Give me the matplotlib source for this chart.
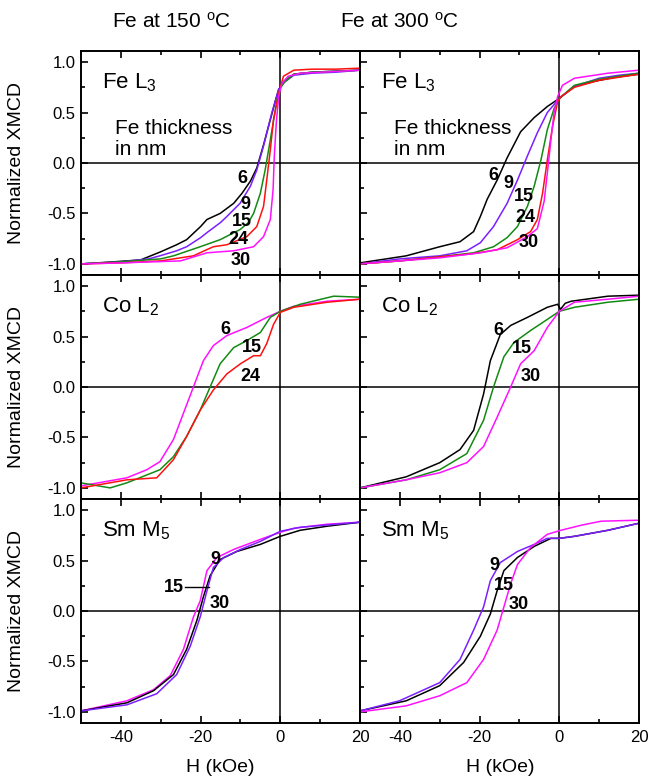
"""Element-resolved XMCD hysteresis loops, Fe deposited at 150 and 300 C."""
import matplotlib

matplotlib.use("Agg")
import matplotlib.pyplot as plt
from matplotlib.ticker import MultipleLocator

plt.rcParams.update(
    {
        "font.family": ["Liberation Sans", "DejaVu Sans"],
        "mathtext.default": "regular",
        "font.size": 12,
        "axes.linewidth": 1.4,
    }
)

COLORS = {
    "black": "#000000",
    "violet": "#7b1fff",
    "green": "#138a13",
    "red": "#ff1010",
    "magenta": "#ff10ff",
}

# ---- Fe L3, Fe at 150 C ----
fe150_6_h = [-50, -42, -35, -30, -26, -23.5, -20, -18.4, -15.1, -11.7, -9.6, -7.5, -5.9, -4.2, -2.5, -1.2, -0.4, 0.8, 3.4, 8, 14, 20]
fe150_6_m = [-1.0, -0.98, -0.96, -0.88, -0.81, -0.76, -0.63, -0.56, -0.50, -0.40, -0.30, -0.18, -0.05, 0.18, 0.43, 0.62, 0.73, 0.80, 0.88, 0.90, 0.91, 0.92]
fe150_9_h = [-50, -40, -33, -30.2, -26, -23.5, -20, -18.4, -15, -13.4, -10.1, -7.5, -5.9, -4.2, -2.1, -0.4, 1, 3.4, 8, 14, 20]
fe150_9_m = [-1.0, -0.98, -0.95, -0.92, -0.87, -0.83, -0.74, -0.69, -0.59, -0.53, -0.40, -0.23, -0.07, 0.17, 0.50, 0.73, 0.80, 0.87, 0.89, 0.90, 0.92]
fe150_15_h = [-50, -40, -30, -26.8, -20.1, -15.1, -10.1, -8, -6.7, -5.0, -3.8, -2.5, -0.8, 0, 1, 3.4, 8, 14, 20]
fe150_15_m = [-1.0, -0.98, -0.95, -0.92, -0.83, -0.76, -0.66, -0.59, -0.50, -0.30, -0.07, 0.23, 0.63, 0.74, 0.80, 0.88, 0.90, 0.91, 0.92]
fe150_24_h = [-50, -40, -30, -21.8, -18.5, -16.8, -13.4, -8.4, -5.9, -4.2, -3.4, -2.5, -1.7, -0.4, 0.8, 3.4, 8, 14, 20]
fe150_24_m = [-1.0, -0.99, -0.97, -0.92, -0.86, -0.83, -0.81, -0.73, -0.63, -0.43, -0.17, 0.13, 0.43, 0.69, 0.86, 0.92, 0.93, 0.93, 0.94]
fe150_30_h = [-50, -40, -25, -18.4, -11.7, -6.7, -4.2, -2.5, -1.8, -1.5, -1.0, -0.4, 0.4, 2, 5, 10, 15, 20]
fe150_30_m = [-1.0, -0.99, -0.97, -0.89, -0.87, -0.83, -0.73, -0.56, -0.26, 0.07, 0.40, 0.66, 0.79, 0.86, 0.89, 0.90, 0.91, 0.92]

# ---- Fe L3, Fe at 300 C ----
fe300_6_h = [-50, -38.4, -30, -24.9, -21.5, -19.8, -18.1, -15.6, -13.1, -9.7, -6.3, -3, 0, 3.8, 8.9, 14, 20]
fe300_6_m = [-0.99, -0.92, -0.83, -0.78, -0.68, -0.53, -0.36, -0.17, 0.05, 0.31, 0.45, 0.56, 0.64, 0.76, 0.81, 0.85, 0.88]
fe300_9_h = [-50, -40, -30, -23.2, -19.8, -16.5, -13.1, -10.5, -8, -5.5, -3, 0, 3.8, 10, 15, 20]
fe300_9_m = [-1.0, -0.95, -0.92, -0.87, -0.79, -0.63, -0.40, -0.17, 0.07, 0.30, 0.50, 0.64, 0.76, 0.84, 0.87, 0.89]
fe300_15_h = [-50, -40, -30, -21.5, -16.5, -13.1, -10.5, -8, -6.3, -4.6, -3, -1.3, 0, 3.8, 10, 20]
fe300_15_m = [-1.0, -0.97, -0.93, -0.89, -0.83, -0.74, -0.63, -0.43, -0.23, 0.03, 0.33, 0.54, 0.64, 0.77, 0.83, 0.89]
fe300_24_h = [-50, -40, -30, -22, -15.6, -10.5, -7.2, -5.5, -4.2, -3, -1.7, -0.4, 0.5, 3.8, 10, 20]
fe300_24_m = [-1.0, -0.97, -0.93, -0.90, -0.86, -0.76, -0.68, -0.56, -0.30, 0.03, 0.36, 0.61, 0.66, 0.75, 0.82, 0.88]
fe300_30_h = [-50, -40, -30, -19.8, -13.1, -8, -5.5, -3.8, -3, -2.1, -1.3, -0.4, 0.8, 3.8, 12.2, 20]
fe300_30_m = [-1.0, -0.97, -0.94, -0.89, -0.84, -0.73, -0.65, -0.38, -0.10, 0.23, 0.50, 0.66, 0.77, 0.84, 0.89, 0.92]

# ---- Co L2, Fe at 150 C ----
co150_6_h = [-50, -38.5, -33.5, -30.2, -26.8, -24.3, -21.8, -19.3, -16.8, -13.4, -8.4, -3.4, 0, 3.4, 11.7, 20]
co150_6_m = [-0.98, -0.90, -0.82, -0.74, -0.52, -0.26, 0.0, 0.26, 0.41, 0.51, 0.59, 0.69, 0.75, 0.80, 0.85, 0.87]
co150_15_h = [-50, -42.7, -38.5, -30.2, -26.8, -23.5, -20.1, -17.6, -15.1, -11.7, -8.4, -5, -2.5, 0, 5, 13.4, 20]
co150_15_m = [-0.95, -1.0, -0.95, -0.82, -0.69, -0.49, -0.23, 0.0, 0.23, 0.39, 0.46, 0.54, 0.69, 0.75, 0.82, 0.90, 0.89]
co150_24_h = [-50, -38.5, -31, -26.8, -23.5, -20.1, -16.8, -13.4, -10, -6.7, -5, -3.4, -1.7, 0, 3.4, 11.7, 20]
co150_24_m = [-1.0, -0.92, -0.90, -0.72, -0.49, -0.23, -0.03, 0.13, 0.23, 0.31, 0.31, 0.43, 0.62, 0.74, 0.79, 0.84, 0.87]

# ---- Co L2, Fe at 300 C ----
co300_6_h = [-50, -38.4, -30, -24.9, -21.5, -19, -17.3, -14.8, -12.2, -8, -3, -0.4, 0.3, 1.5, 3, 12.2, 20]
co300_6_m = [-1.0, -0.89, -0.75, -0.62, -0.43, -0.07, 0.26, 0.52, 0.61, 0.69, 0.79, 0.82, 0.77, 0.83, 0.85, 0.90, 0.91]
co300_15_h = [-50, -38.4, -30, -23.2, -19, -16.5, -13.9, -11.4, -7.2, -3, 0, 3.8, 12.2, 20]
co300_15_m = [-1.0, -0.92, -0.82, -0.66, -0.33, 0.0, 0.30, 0.44, 0.56, 0.67, 0.75, 0.79, 0.84, 0.87]
co300_30_h = [-50, -38.4, -30, -23.2, -19, -15.6, -12.2, -9.7, -6.3, -3, 0, 3.8, 12.2, 20]
co300_30_m = [-1.0, -0.92, -0.85, -0.75, -0.59, -0.30, 0.0, 0.23, 0.36, 0.59, 0.75, 0.84, 0.87, 0.90]

# ---- Sm M5, Fe at 150 C ----
sm150_a_h = [-50, -38.5, -31.8, -27.6, -24.3, -21.8, -20.1, -18.4, -15.9, -11.7, -5, 0, 3.4, 11.7, 20]
sm150_a_m = [-0.99, -0.89, -0.78, -0.64, -0.38, -0.06, 0.10, 0.40, 0.53, 0.61, 0.71, 0.78, 0.82, 0.86, 0.88]
sm150_b_h = [-50, -38.5, -31.8, -26.8, -23.5, -20.9, -19.3, -17.6, -15.1, -10.9, -5, 0, 5, 11.7, 20]
sm150_b_m = [-0.99, -0.91, -0.79, -0.63, -0.38, -0.09, 0.14, 0.35, 0.51, 0.59, 0.66, 0.74, 0.80, 0.84, 0.88]
sm150_c_h = [-50, -38.5, -31, -26, -22.6, -20.1, -18.4, -16.8, -14.2, -10, -5, 0, 5, 20]
sm150_c_m = [-0.99, -0.93, -0.82, -0.63, -0.35, -0.06, 0.20, 0.43, 0.53, 0.61, 0.69, 0.79, 0.83, 0.88]

# ---- Sm M5, Fe at 300 C ----
sm300_9_h = [-50, -40.1, -30, -24.9, -21.5, -19, -17.3, -14.8, -10.5, -6.3, -3, 0, 3.8, 12.2, 20]
sm300_9_m = [-0.99, -0.89, -0.71, -0.48, -0.19, 0.04, 0.30, 0.48, 0.59, 0.66, 0.72, 0.72, 0.74, 0.80, 0.87]
sm300_15_h = [-50, -38.4, -30, -24, -19.8, -17.3, -15.6, -13.9, -10.5, -6.3, -2.1, 0, 3.8, 12.2, 20]
sm300_15_m = [-0.99, -0.89, -0.74, -0.51, -0.25, -0.03, 0.20, 0.40, 0.53, 0.64, 0.72, 0.72, 0.74, 0.80, 0.87]
sm300_30_h = [-50, -38.4, -30, -23.2, -19, -15.6, -13.9, -12.2, -10.5, -7.2, -3, 0.4, 5.5, 10.5, 20]
sm300_30_m = [-1.0, -0.94, -0.84, -0.71, -0.48, -0.19, 0.04, 0.27, 0.46, 0.63, 0.76, 0.80, 0.85, 0.89, 0.90]

COL_TITLES = ["Fe at 150 $^{o}$C", "Fe at 300 $^{o}$C"]
ROW_LABELS = ["Fe L$_3$", "Co L$_2$", "Sm M$_5$"]

# panel -> list of (h, m, color)
PANELS = {
    (0, 0): [(fe150_6_h, fe150_6_m, "black"), (fe150_9_h, fe150_9_m, "violet"),
             (fe150_15_h, fe150_15_m, "green"), (fe150_24_h, fe150_24_m, "red"),
             (fe150_30_h, fe150_30_m, "magenta")],
    (0, 1): [(fe300_6_h, fe300_6_m, "black"), (fe300_9_h, fe300_9_m, "violet"),
             (fe300_15_h, fe300_15_m, "green"), (fe300_24_h, fe300_24_m, "red"),
             (fe300_30_h, fe300_30_m, "magenta")],
    (1, 0): [(co150_6_h, co150_6_m, "magenta"), (co150_15_h, co150_15_m, "green"),
             (co150_24_h, co150_24_m, "red")],
    (1, 1): [(co300_6_h, co300_6_m, "black"), (co300_15_h, co300_15_m, "green"),
             (co300_30_h, co300_30_m, "magenta")],
    (2, 0): [(sm150_a_h, sm150_a_m, "magenta"), (sm150_b_h, sm150_b_m, "black"),
             (sm150_c_h, sm150_c_m, "violet")],
    (2, 1): [(sm300_15_h, sm300_15_m, "black"), (sm300_9_h, sm300_9_m, "violet"),
             (sm300_30_h, sm300_30_m, "magenta")],
}

# thickness labels: (text, H, M)
NUMBERS = {
    (0, 0): [("6", -9.6, -0.15), ("9", -8.8, -0.41), ("15", -9.6, -0.58), ("24", -10.5, -0.76), ("30", -10.0, -0.97)],
    (0, 1): [("6", -16.5, -0.12), ("9", -12.7, -0.20), ("15", -8.9, -0.33), ("24", -8.4, -0.54), ("30", -7.6, -0.79)],
    (1, 0): [("6", -13.8, 0.57), ("15", -7.1, 0.39), ("24", -7.5, 0.10)],
    (1, 1): [("6", -15.2, 0.56), ("15", -9.3, 0.38), ("30", -7.2, 0.10)],
    (2, 0): [("9", -16.3, 0.51), ("15", -26.8, 0.23), ("30", -15.1, 0.07)],
    (2, 1): [("9", -16.3, 0.45), ("15", -13.9, 0.25), ("30", -10.1, 0.06)],
}

W, H_FIG = 649, 780
fig = plt.figure(figsize=(W / 100, H_FIG / 100), dpi=100)

x_left = [81 / W, 360 / W]
pw = 279 / W
tops = [51, 275, 499]
ph = 224 / H_FIG

for (r, c), curves in PANELS.items():
    ax = fig.add_axes([x_left[c], 1 - (tops[r] + 224) / H_FIG, pw, ph])
    ax.axhline(0, color="black", lw=1.1, zorder=1)
    ax.axvline(0, color="black", lw=1.1, zorder=1)
    for h, m, col in curves:
        ax.plot(h, m, color=COLORS[col], lw=1.1, zorder=2)
    ax.set_xlim(-50, 20)
    ax.set_ylim(-1.11, 1.11)
    ax.xaxis.set_major_locator(MultipleLocator(20))
    ax.xaxis.set_minor_locator(MultipleLocator(10))
    ax.yaxis.set_major_locator(MultipleLocator(0.5))
    ax.yaxis.set_minor_locator(MultipleLocator(0.25))
    ax.tick_params(which="both", direction="in", top=True, right=False, width=1.2)
    ax.tick_params(which="major", length=5)
    ax.tick_params(which="minor", length=3)
    ax.tick_params(axis="y", pad=4, labelsize=12)
    ax.tick_params(axis="x", pad=5, labelsize=12)
    ax.set_xticks([-40, -20, 0, 20])
    if c == 0:
        ax.set_yticks([-1.0, -0.5, 0.0, 0.5, 1.0])
        ax.set_yticklabels(["-1.0", "-0.5", "0.0", "0.5", "1.0"])
    else:
        ax.set_yticklabels([])
    if r < 2:
        ax.set_xticklabels([])
    else:
        ax.set_xticklabels(["-40", "-20", "0", "20"])

    ax.text(-44.8, 0.80, ROW_LABELS[r], fontsize=16, va="center", ha="left")
    if r == 0:
        ax.text(-41.5, 0.24, "Fe thickness\nin nm", fontsize=15, va="center", ha="left",
                linespacing=1.1)
    for txt, hx, my in NUMBERS[(r, c)]:
        ax.text(hx, my, txt, fontsize=13, fontweight="bold", ha="center", va="center", zorder=3)
    if (r, c) == (2, 0):
        ax.plot([-23.9, -18.0], [0.24, 0.24], color="black", lw=1.0)

    if c == 0:
        fig.text(17 / W, 1 - (tops[r] + 112) / H_FIG, "Normalized XMCD", rotation=90,
                 fontsize=14, ha="center", va="center")

fig.text(172 / W, 1 - 22 / H_FIG, COL_TITLES[0], fontsize=15, ha="center", va="center")
fig.text(400 / W, 1 - 22 / H_FIG, COL_TITLES[1], fontsize=15, ha="center", va="center")
fig.text(220 / W, 1 - 767 / H_FIG, "H (kOe)", fontsize=14, ha="center", va="center")
fig.text(500 / W, 1 - 767 / H_FIG, "H (kOe)", fontsize=14, ha="center", va="center")

fig.savefig("out.png", dpi=100, facecolor="white")
plt.close(fig)
